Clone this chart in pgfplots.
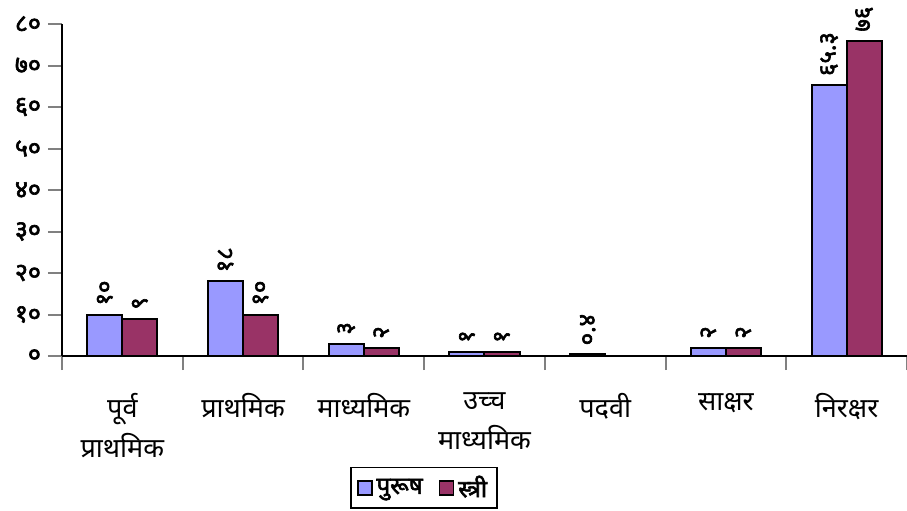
\documentclass[border=0pt]{standalone}
\usepackage{fontspec}
\usepackage{pgfplots}
\pgfplotsset{compat=1.18}
\newfontfamily\deva[Script=Devanagari]{Noto Sans}
\newfontfamily\devab[Script=Devanagari, FakeBold=2.5]{Noto Sans}
\definecolor{purush}{HTML}{9999FF}
\definecolor{stri}{HTML}{993366}

\begin{document}
\begin{tikzpicture}
\useasboundingbox (0,0) rectangle (453.5pt,255pt);
\begin{axis}[
    at={(31pt,77pt)}, anchor=south west,
    scale only axis,
    width=422.5pt, height=166pt,
    xmin=-0.5, xmax=6.5,
    ymin=0, ymax=80,
    axis x line=bottom, axis y line=left,
    axis line style={-, line width=1pt},
    ybar,
    bar width=0.29,
    xtick={0,...,6},
    xticklabels={पूर्व\\प्राथमिक, प्राथमिक, माध्यमिक, उच्च\\माध्यमिक, पदवी, साक्षर, निरक्षर},
    major x tick style={draw=none},
    minor xtick={-0.5,0.5,...,6.5},
    minor x tick style={line width=1pt},
    minor tick length=7pt,
    xticklabel style={font=\deva\fontsize{13.5}{20}\selectfont, align=center, anchor=north, yshift=-8pt},
    ytick={0,10,...,80},
    yticklabels={०,१०,२०,३०,४०,५०,६०,७०,८०},
    yticklabel style={font=\devab\fontsize{12.5}{13}\selectfont},
    y tick style={line width=1pt},
    major tick length=7pt,
    tick align=outside,
    point meta=explicit symbolic,
    nodes near coords,
    nodes near coords style={rotate=90, anchor=west, inner xsep=4pt,
        font=\devab\fontsize{12}{13}\selectfont, text=black},
    legend style={at={(0.341,-0.334)}, anchor=north west, draw=black,
        line width=0.8pt, font=\devab\fontsize{12}{13}\selectfont,
        inner ysep=2pt, inner xsep=3pt,
        /tikz/every even column/.append style={column sep=6pt}},
    legend columns=2,
    legend image code/.code={\draw[#1, line width=0.8pt] (0pt,-3.5pt) rectangle (7pt,3.5pt);},
    clip=false,
]
\addplot[fill=purush, draw=black, line width=1pt, bar shift=-0.145] coordinates {
    (0,10) [१०]
    (1,18) [१८]
    (2,3) [३]
    (3,1) [१]
    (4,0.4) [०.४]
    (5,2) [२]
    (6,65.3) [६५.३]
};
\addplot[fill=stri, draw=black, line width=1pt, bar shift=0.145] coordinates {
    (0,9) [९]
    (1,10) [१०]
    (2,2) [२]
    (3,1) [१]
    (5,2) [२]
    (6,76) [७६]
};
\legend{पुरूष, स्त्री}
\end{axis}
\end{tikzpicture}
\end{document}
